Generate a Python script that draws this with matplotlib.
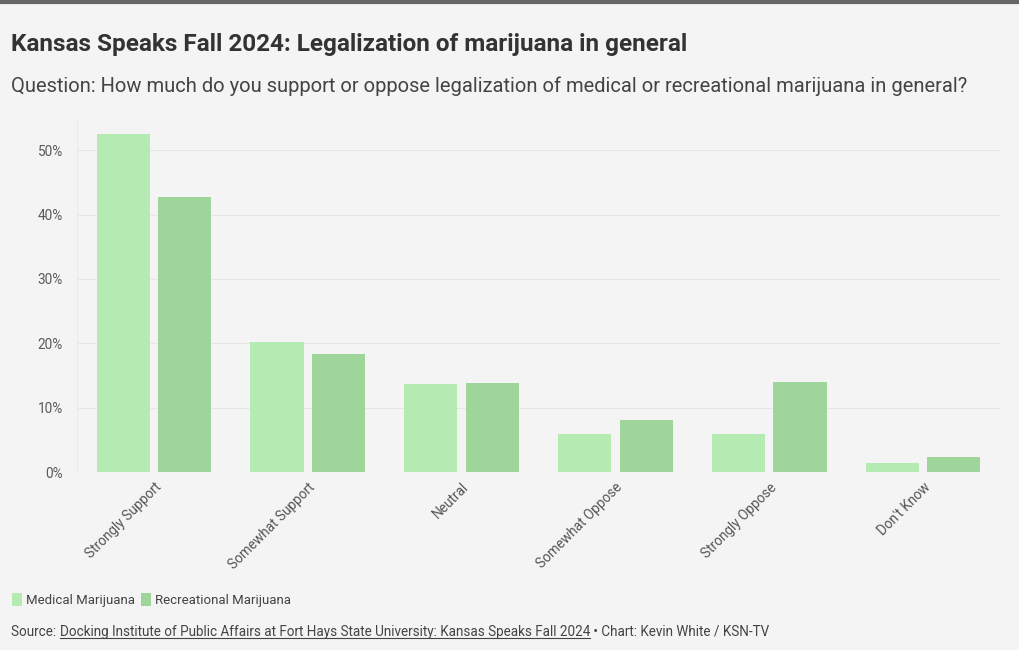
import matplotlib
matplotlib.use("Agg")
import matplotlib.pyplot as plt
from matplotlib.patches import Patch
from matplotlib.lines import Line2D
import numpy as np

categories = ["Strongly Support", "Somewhat Support", "Neutral",
              "Somewhat Oppose", "Strongly Oppose", "Don't Know"]
medical = [52.5, 20.2, 13.6, 5.9, 5.9, 1.4]
recreational = [42.7, 18.3, 13.8, 8.1, 14.0, 2.4]
series_names = ["Medical Marijuana", "Recreational Marijuana"]
y_ticks = [0, 10, 20, 30, 40, 50]

BG = "#f4f4f4"
C_MED = "#b5ebb2"
C_REC = "#9fd59a"
FONT = ["Roboto", "DejaVu Sans"]
plt.rcParams["font.family"] = FONT

fig = plt.figure(figsize=(10.2, 6.5), dpi=100, facecolor=BG)
ax = fig.add_axes([77/1020, 1-472/650, (1000-77)/1020, (472-118)/650])
ax.set_facecolor(BG)

x = np.arange(len(categories))
w = 0.345
ax.bar(x - 0.2, medical, width=w, color=C_MED, zorder=3)
ax.bar(x + 0.2, recreational, width=w, color=C_REC, zorder=3)

ax.set_xlim(-0.5, len(categories) - 0.5)
ax.set_ylim(0, 55)
ax.set_yticks(y_ticks)
ax.set_yticklabels([f"{v}%" for v in y_ticks])
ax.grid(axis="y", color="#e6e6e6", linewidth=0.8, zorder=0)
for s in ["top", "right", "bottom"]:
    ax.spines[s].set_visible(False)
ax.spines["left"].set_color("#ebebeb")
ax.spines["left"].set_linewidth(0.8)
ax.tick_params(axis="y", length=0, pad=10, labelsize=9.8, labelcolor="#5a5a5a")
ax.tick_params(axis="x", length=0, pad=6, labelsize=9.8, labelcolor="#555555")
ax.set_xticks(x)
ax.set_xticklabels(categories, rotation=45, ha="right", va="top", rotation_mode="anchor")

fig.text(11/1020, 1-45/650, "Kansas Speaks Fall 2024: Legalization of marijuana in general",
         fontsize=17.5, fontweight="bold", color="#333333", va="center", ha="left")
fig.text(11/1020, 1-86/650,
         "Question: How much do you support or oppose legalization of medical or recreational marijuana in general?",
         fontsize=14.5, color="#444444", va="center", ha="left")

# top border
fig.add_artist(Line2D([0, 1], [1 - 1.5/650, 1 - 1.5/650], color="#666666", linewidth=3,
                      transform=fig.transFigure))

handles = [Patch(facecolor=C_MED, edgecolor="none"), Patch(facecolor=C_REC, edgecolor="none")]
fig.legend(handles, series_names, loc="center left", bbox_to_anchor=(0/1020, 1-600/650),
           frameon=False, ncol=2, fontsize=9.5, handlelength=0.75, handleheight=1.2,
           handletextpad=0.3, columnspacing=0.5, labelcolor="#444444")

# footer with underlined link text
fig.canvas.draw()
renderer = fig.canvas.get_renderer()
fy = 1 - 632/650
parts = [("Source: ", False), ("Docking Institute of Public Affairs at Fort Hays State University: Kansas Speaks Fall 2024", True),
         (" \u2022 Chart: Kevin White / KSN-TV", False)]
xpos = 11 / 1020
for txt, ul in parts:
    t = fig.text(xpos, fy, txt, fontsize=9.75, color="#444444", va="center", ha="left")
    bb = t.get_window_extent(renderer)
    x0 = bb.x0 / fig.bbox.width
    x1 = bb.x1 / fig.bbox.width
    if ul:
        yl = (bb.y0 + 1) / fig.bbox.height
        fig.add_artist(Line2D([x0, x1], [yl, yl], color="#444444", linewidth=0.8,
                              transform=fig.transFigure))
    xpos = x1

fig.savefig("out.png", dpi=100, facecolor=BG)
